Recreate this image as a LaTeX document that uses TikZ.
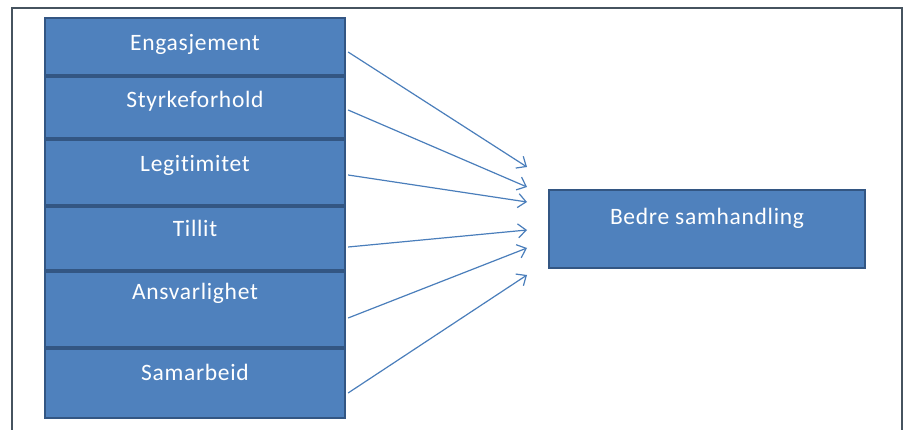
\documentclass[tikz,border=0pt]{standalone}
\usepackage{fontspec}
\setmainfont{Carlito}
\newfontfamily\boxfont[LetterSpace=3,Ligatures=NoCommon]{Carlito}
\usetikzlibrary{arrows.meta}
\definecolor{boxfill}{HTML}{4F81BD}
\definecolor{boxline}{HTML}{335683}
\definecolor{arrcol}{HTML}{4A7EBB}
\definecolor{framecol}{HTML}{46535F}
\begin{document}
\begin{tikzpicture}[x=1pt,y=-1pt,
  bluebox/.style={draw=boxline,fill=boxfill,line width=2.2pt,inner sep=0pt},
  sepline/.style={draw=boxline,line width=3.6pt},
  boxtext/.style={text=white,font=\boxfont\fontsize{23.5}{26}\selectfont,anchor=center},
  arr/.style={draw=arrcol,line width=1.2pt,-{Straight Barb[length=8pt,width=14pt,line width=1.2pt]}}]
\useasboundingbox (0,0) rectangle (908,430);
\fill[white] (0,0) rectangle (908,430);
% frame
\draw[framecol,line width=2pt] (12,432) -- (12,8) -- (902,8) -- (902,432);
% left boxes
\node[bluebox,minimum width=300pt,minimum height=57pt] (b1) at (195,46.5) {};
\node[bluebox,minimum width=300pt,minimum height=63pt] (b2) at (195,106.5) {};
\node[bluebox,minimum width=300pt,minimum height=67pt] (b3) at (195,171.5) {};
\node[bluebox,minimum width=300pt,minimum height=65pt] (b4) at (195,237.5) {};
\node[bluebox,minimum width=300pt,minimum height=77pt] (b5) at (195,308.5) {};
\node[bluebox,minimum width=300pt,minimum height=71pt] (b6) at (195,382.5) {};
\draw[sepline] (b1.south west) -- (b1.south east);
\draw[sepline] (b2.south west) -- (b2.south east);
\draw[sepline] (b3.south west) -- (b3.south east);
\draw[sepline] (b4.south west) -- (b4.south east);
\draw[sepline] (b5.south west) -- (b5.south east);
\node[boxtext] (l1) at (195,44) {Engasjement};
\node[boxtext] (l2) at (195,101) {Styrkeforhold};
\node[boxtext] (l3) at (195,165) {Legitimitet};
\node[boxtext] (l4) at (195,228) {Tillit};
\node[boxtext] (l5) at (195,293) {Ansvarlighet};
\node[boxtext] (l6) at (195,372) {Samarbeid};
% right box
\node[bluebox,minimum width=316pt,minimum height=78pt] (r) at (707,229) {};
\node[boxtext] (lr) at (707,218) {Bedre samhandling};
% arrow targets
\coordinate (t1) at (527,167);
\coordinate (t2) at (527,187);
\coordinate (t3) at (527,202);
\coordinate (t4) at (527,230);
\coordinate (t5) at (527,248);
\coordinate (t6) at (527,275);
\draw[arr] ([xshift=2pt,yshift=-5.5pt]b1.east) -- (t1);
\draw[arr] ([xshift=2pt,yshift=-3.5pt]b2.east) -- (t2);
\draw[arr] ([xshift=2pt,yshift=-3.5pt]b3.east) -- (t3);
\draw[arr] ([xshift=2pt,yshift=-9.5pt]b4.east) -- (t4);
\draw[arr] ([xshift=2pt,yshift=-9.5pt]b5.east) -- (t5);
\draw[arr] ([xshift=2pt,yshift=-10.5pt]b6.east) -- (t6);
\end{tikzpicture}
\end{document}
